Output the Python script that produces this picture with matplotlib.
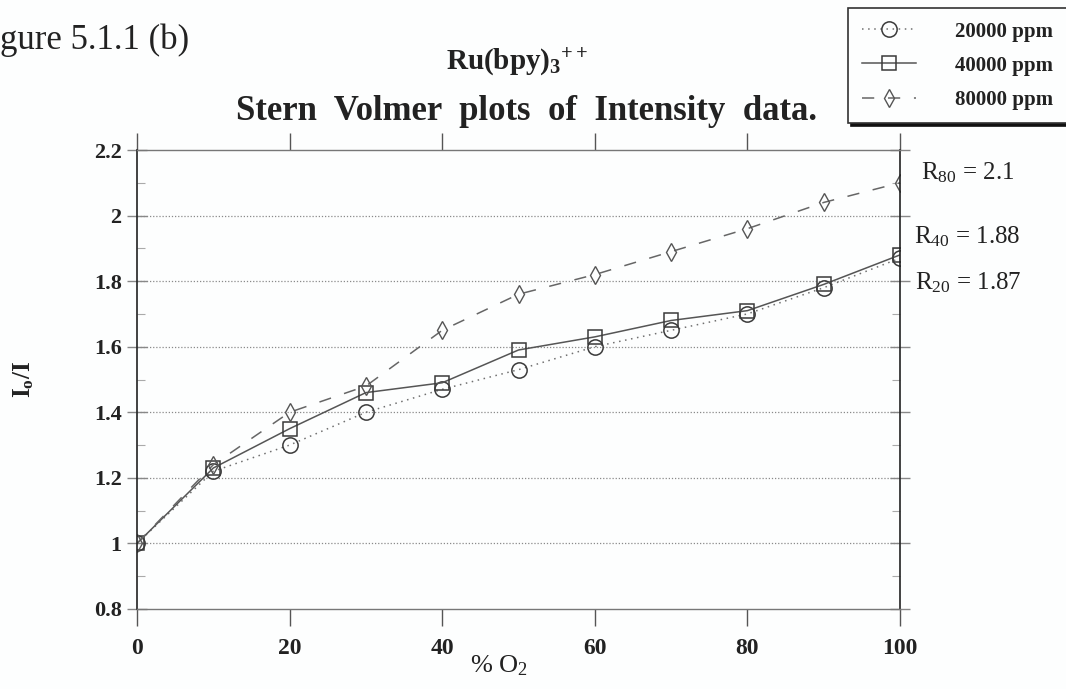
import matplotlib
matplotlib.use("Agg")
import matplotlib.pyplot as plt
from matplotlib.ticker import MultipleLocator, FixedLocator

# Oxygen concentration (%) and Stern-Volmer ratios Io/I
o2_percent = [0, 10, 20, 30, 40, 50, 60, 70, 80, 90, 100]
ratio_20000 = [1.00, 1.22, 1.30, 1.40, 1.47, 1.53, 1.60, 1.65, 1.70, 1.78, 1.87]
ratio_40000 = [1.00, 1.23, 1.35, 1.46, 1.49, 1.59, 1.63, 1.68, 1.71, 1.79, 1.88]
ratio_80000 = [1.00, 1.24, 1.40, 1.48, 1.65, 1.76, 1.82, 1.89, 1.96, 2.04, 2.10]
series_labels = ["20000 ppm", "40000 ppm", "80000 ppm"]
end_labels = ["R$_{20}$ = 1.87", "R$_{40}$ = 1.88", "R$_{80}$ = 2.1"]
x_ticks = [0, 20, 40, 60, 80, 100]
y_ticks = [0.8, 1.0, 1.2, 1.4, 1.6, 1.8, 2.0, 2.2]
y_tick_labels = ["0.8", "1", "1.2", "1.4", "1.6", "1.8", "2", "2.2"]

serif = "Liberation Serif"
plt.rcParams["font.family"] = serif
plt.rcParams["mathtext.fontset"] = "custom"
plt.rcParams["mathtext.rm"] = serif
plt.rcParams["mathtext.it"] = serif + ":italic"
plt.rcParams["mathtext.bf"] = serif + ":bold"

fig = plt.figure(figsize=(10.66, 6.89), dpi=100)
fig.patch.set_facecolor("#fdfefe")
ax = fig.add_axes([137 / 1066, 1 - 609 / 689, (900 - 137) / 1066, (609 - 150) / 689])
ax.set_facecolor("#fdfefe")

ink = "#3a3a3a"
l20, = ax.plot(o2_percent, ratio_20000, linestyle=(0, (1, 3)), color="#707070", lw=1.1,
               marker="o", ms=11, mfc="none", mec=ink, mew=1.1, label=series_labels[0])
l40, = ax.plot(o2_percent, ratio_40000, linestyle="-", color="#555555", lw=1.1,
               marker="s", ms=10, mfc="none", mec=ink, mew=1.1, label=series_labels[1])
l80, = ax.plot(o2_percent, ratio_80000, linestyle=(0, (8, 9)), color="#666666", lw=1.1,
               marker="d", ms=9, mfc="none", mec="#555555", mew=1.0, label=series_labels[2])

ax.set_xlim(0, 100)
ax.set_ylim(0.8, 2.2)

# dotted horizontal guides
for yv in y_ticks[1:-1]:
    ax.axhline(yv, color="#8a8a8a", lw=0.9, linestyle=(0, (1, 1.5)), zorder=0)

for side in ["left", "right"]:
    ax.spines[side].set_color("#222222")
    ax.spines[side].set_linewidth(1.2)
for side in ["top", "bottom"]:
    ax.spines[side].set_color("#777777")
    ax.spines[side].set_linewidth(1.0)

ax.xaxis.set_major_locator(FixedLocator(x_ticks))
ax.tick_params(axis="x", which="major", direction="out", length=12, width=1, color="#555555",
               top=True, labeltop=False, labelsize=17, pad=9, labelcolor="#222222")
ax.set_yticks(y_ticks)
ax.set_yticklabels(y_tick_labels)
ax.yaxis.set_minor_locator(MultipleLocator(0.1))
ax.tick_params(axis="y", which="major", direction="inout", length=14, width=1, color="#888888",
               right=True, labelsize=16, pad=4, labelcolor="#222222")
ax.tick_params(axis="y", which="minor", direction="in", length=6, width=0.8, color="#aaaaaa",
               right=True)
for t in ax.get_xticklabels() + ax.get_yticklabels():
    t.set_fontweight("bold")

ax.set_xlabel("% O$_2$", fontsize=19, color="#222222")
ax.xaxis.set_label_coords(0.475, -0.097)
ax.set_ylabel("I$_\\mathbf{o}$/I", fontsize=18, fontweight="bold", color="#222222")
ax.yaxis.set_label_coords(-0.132, 0.5)

# end-point ratio labels
ax.text(102.7, ratio_80000[-1] + 0.03, end_labels[2], fontsize=18, color="#222222",
        va="center", ha="left", clip_on=False)
ax.text(101.9, ratio_40000[-1] + 0.055, end_labels[1], fontsize=18, color="#222222",
        va="center", ha="left", clip_on=False)
ax.text(102.0, ratio_20000[-1] - 0.075, end_labels[0], fontsize=18, color="#222222",
        va="center", ha="left", clip_on=False)

fig.text(0.0, 1 - 40 / 689, "gure 5.1.1 (b)", fontsize=25, color="#222222", va="center", ha="left")
fig.text(517 / 1066, 1 - 62 / 689, "Ru(bpy)$_\\mathbf{3}$$^\\mathbf{++}$", fontsize=21,
         fontweight="bold", color="#222222", ha="center", va="center")
fig.text(527 / 1066, 1 - 112 / 689, "Stern  Volmer  plots  of  Intensity  data.", fontsize=25,
         fontweight="bold", color="#222222", ha="center", va="center")

leg = fig.legend(handles=[l20, l40, l80], loc="upper left", bbox_to_anchor=(848 / 1066, 1 - 8 / 689),
                 frameon=True, fancybox=False, fontsize=15, handlelength=2.6, handletextpad=1.9,
                 borderpad=0.65, labelspacing=0.68, borderaxespad=0,
                 shadow={"color": "#111111", "alpha": 1.0})
leg.get_frame().set_edgecolor("#333333")
leg.get_frame().set_linewidth(1.2)
leg.get_frame().set_facecolor("#fdfefe")
for t in leg.get_texts():
    t.set_fontweight("bold")
    t.set_color("#222222")

fig.savefig("out.png", dpi=100)
